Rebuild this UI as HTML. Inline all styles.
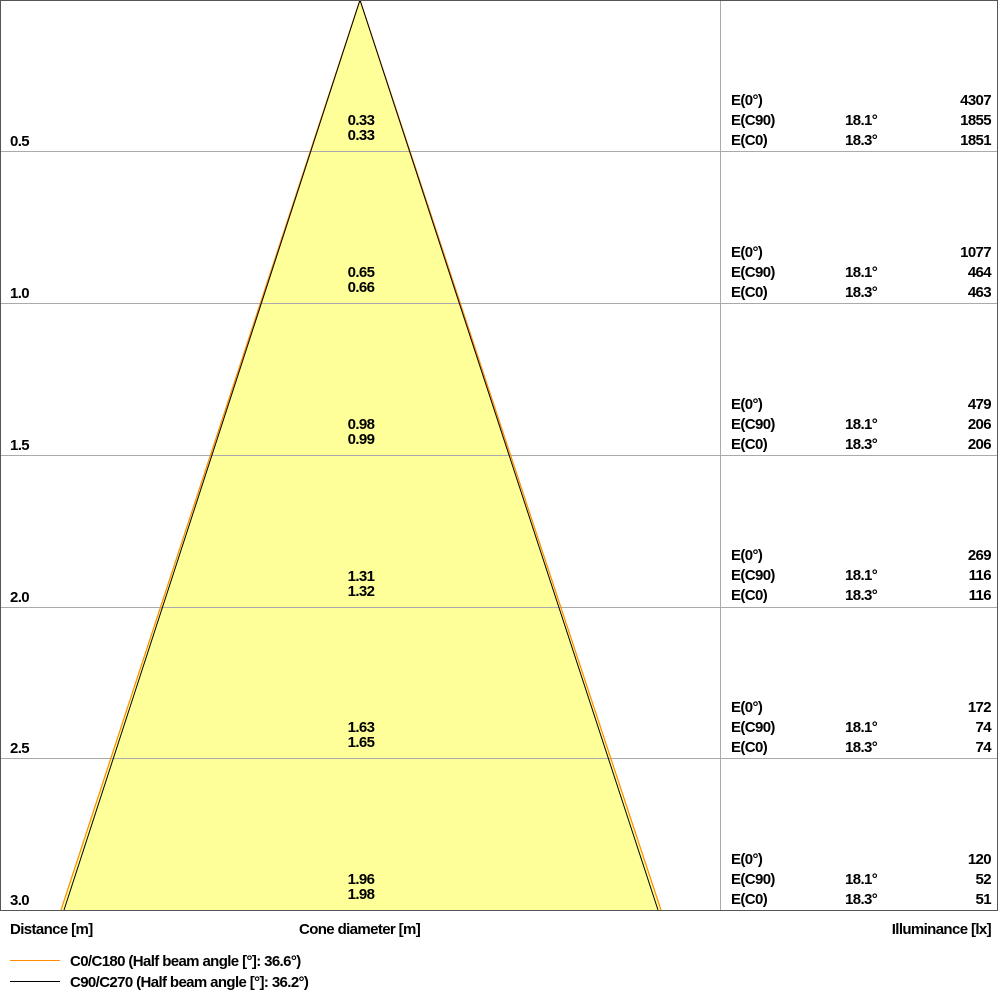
<!DOCTYPE html>
<html><head><meta charset="utf-8"><style>
html,body{margin:0;padding:0;background:#fff}
svg text{font-family:"Liberation Sans",Arial,sans-serif;font-size:15px;font-weight:bold;letter-spacing:-0.62px;fill:#000}
</style></head><body>
<svg width="1000" height="1000" viewBox="0 0 1000 1000" xmlns="http://www.w3.org/2000/svg">
<polygon points="360,0 61,910 661,910" fill="#ffff99"/>
<g stroke="#aaaaaa" stroke-width="1">
<line x1="0" y1="151.5" x2="998" y2="151.5"/>
<line x1="0" y1="303.5" x2="998" y2="303.5"/>
<line x1="0" y1="455.5" x2="998" y2="455.5"/>
<line x1="0" y1="607.5" x2="998" y2="607.5"/>
<line x1="0" y1="758.5" x2="998" y2="758.5"/>
<line x1="720.5" y1="0" x2="720.5" y2="910"/>
</g>
<polyline points="61,910 360,0 661,910" fill="none" stroke="#ff8c00" stroke-width="1.2"/>
<polyline points="64,910 360,0 658,910" fill="none" stroke="#000" stroke-width="1"/>
<rect x="0.5" y="0.5" width="997" height="910" fill="none" stroke="#555" stroke-width="1"/>
<g>
<text x="10" y="146">0.5</text><text x="10" y="298">1.0</text><text x="10" y="450">1.5</text>
<text x="10" y="602">2.0</text><text x="10" y="753">2.5</text><text x="10" y="905">3.0</text>
</g>
<g text-anchor="middle">
<text x="361" y="125">0.33</text><text x="361" y="140">0.33</text>
<text x="361" y="277">0.65</text><text x="361" y="292">0.66</text>
<text x="361" y="429">0.98</text><text x="361" y="444">0.99</text>
<text x="361" y="581">1.31</text><text x="361" y="596">1.32</text>
<text x="361" y="732">1.63</text><text x="361" y="747">1.65</text>
<text x="361" y="884">1.96</text><text x="361" y="899">1.98</text>
</g>
<g>
<text x="731" y="105">E(0°)</text><text x="731" y="125">E(C90)</text><text x="731" y="145">E(C0)</text>
<text x="731" y="257">E(0°)</text><text x="731" y="277">E(C90)</text><text x="731" y="297">E(C0)</text>
<text x="731" y="409">E(0°)</text><text x="731" y="429">E(C90)</text><text x="731" y="449">E(C0)</text>
<text x="731" y="560">E(0°)</text><text x="731" y="580">E(C90)</text><text x="731" y="600">E(C0)</text>
<text x="731" y="712">E(0°)</text><text x="731" y="732">E(C90)</text><text x="731" y="752">E(C0)</text>
<text x="731" y="864">E(0°)</text><text x="731" y="884">E(C90)</text><text x="731" y="904">E(C0)</text>
<text x="845" y="125">18.1°</text><text x="845" y="145">18.3°</text>
<text x="845" y="277">18.1°</text><text x="845" y="297">18.3°</text>
<text x="845" y="429">18.1°</text><text x="845" y="449">18.3°</text>
<text x="845" y="580">18.1°</text><text x="845" y="600">18.3°</text>
<text x="845" y="732">18.1°</text><text x="845" y="752">18.3°</text>
<text x="845" y="884">18.1°</text><text x="845" y="904">18.3°</text>
</g>
<g text-anchor="end">
<text x="991" y="105">4307</text><text x="991" y="125">1855</text><text x="991" y="145">1851</text>
<text x="991" y="257">1077</text><text x="991" y="277">464</text><text x="991" y="297">463</text>
<text x="991" y="409">479</text><text x="991" y="429">206</text><text x="991" y="449">206</text>
<text x="991" y="560">269</text><text x="991" y="580">116</text><text x="991" y="600">116</text>
<text x="991" y="712">172</text><text x="991" y="732">74</text><text x="991" y="752">74</text>
<text x="991" y="864">120</text><text x="991" y="884">52</text><text x="991" y="904">51</text>
</g>
<text x="10" y="934">Distance [m]</text>
<text x="299" y="934">Cone diameter [m]</text>
<text x="991" y="934" text-anchor="end">Illuminance [lx]</text>
<line x1="10" y1="960.5" x2="60" y2="960.5" stroke="#ff8c00" stroke-width="1"/>
<line x1="10" y1="981.5" x2="60" y2="981.5" stroke="#000" stroke-width="1"/>
<text x="70" y="966">C0/C180 (Half beam angle [°]: 36.6°)</text>
<text x="70" y="987">C90/C270 (Half beam angle [°]: 36.2°)</text>
</svg>
</body></html>
